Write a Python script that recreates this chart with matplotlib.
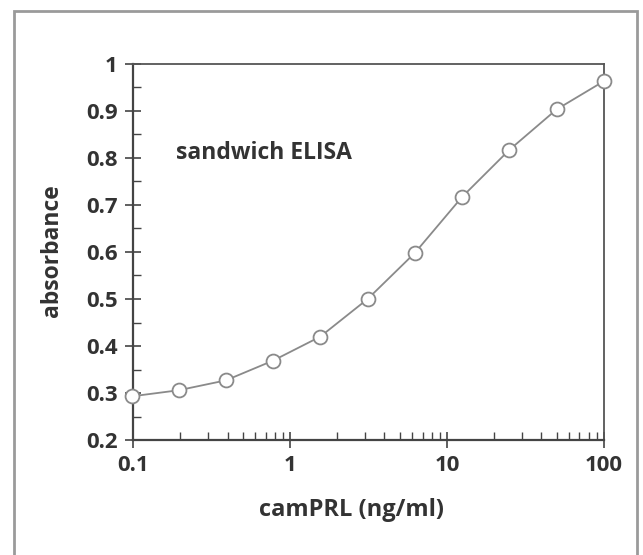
"""
plot.py - sandwich ELISA standard curve for camPRL
"""

import matplotlib
matplotlib.use("Agg")
import matplotlib.pyplot as plt
import matplotlib.patches as mpatches
from matplotlib.ticker import FixedLocator, LogLocator, NullFormatter

# ── data ──────────────────────────────────────────────────────────────────────
conc = [0.0977, 0.195, 0.39, 0.78, 1.56, 3.125, 6.25, 12.5, 25, 50, 100]
absorbance = [0.293, 0.306, 0.327, 0.369, 0.420, 0.500, 0.598, 0.717,
              0.817, 0.903, 0.963]

x_ticks = [0.1, 1, 10, 100]
x_tick_labels = ["0.1", "1", "10", "100"]
y_ticks = [0.2, 0.3, 0.4, 0.5, 0.6, 0.7, 0.8, 0.9, 1.0]
y_tick_labels = ["0.2", "0.3", "0.4", "0.5", "0.6", "0.7", "0.8", "0.9", "1"]

# ── style constants ──────────────────────────────────────────────────────────
LINE = "#8a8a8a"
SPINE = "#444444"
TEXT = "#333333"
FONT = "Open Sans"

plt.rcParams.update({"font.family": FONT})

fig = plt.figure(figsize=(6.43, 5.55), dpi=100)
ax = fig.add_axes([0.207, 0.207, 0.732, 0.678])

ax.plot(conc, absorbance, color=LINE, linewidth=1.3, marker="o",
        markersize=10, markerfacecolor="white", markeredgecolor=LINE,
        markeredgewidth=1.3, clip_on=False, zorder=3)

ax.set_xscale("log")
ax.set_xlim(0.1, 100)
ax.set_ylim(0.2, 1.0)

ax.set_xticks(x_ticks)
ax.set_xticklabels(x_tick_labels)
ax.xaxis.set_minor_locator(LogLocator(base=10, subs=range(2, 10)))
ax.xaxis.set_minor_formatter(NullFormatter())
ax.set_yticks(y_ticks)
ax.set_yticklabels(y_tick_labels)
ax.yaxis.set_minor_locator(FixedLocator([0.25, 0.35, 0.45, 0.55, 0.65,
                                         0.75, 0.85, 0.95]))

ax.tick_params(which="major", direction="inout", length=12, width=1.2,
               color=SPINE, labelsize=16, labelcolor=TEXT, pad=5)
ax.tick_params(which="minor", direction="in", length=6, width=1.0,
               color=SPINE)
ax.tick_params(axis="x", which="both", top=False)
ax.tick_params(axis="y", which="both", right=False)
for lab in ax.get_xticklabels() + ax.get_yticklabels():
    lab.set_fontweight("bold")

for side in ["left", "bottom"]:
    ax.spines[side].set_color(SPINE)
    ax.spines[side].set_linewidth(1.6)
for side in ["top", "right"]:
    ax.spines[side].set_color("#555555")
    ax.spines[side].set_linewidth(1.3)

ax.set_xlabel("camPRL (ng/ml)", fontsize=17, fontweight="bold", color=TEXT)
ax.set_ylabel("absorbance", fontsize=16.5, fontweight="bold", color=TEXT)
ax.xaxis.set_label_coords(0.465, -0.186)
ax.xaxis.label.set_va("center")
ax.yaxis.set_label_coords(-0.172, 0.503)
ax.yaxis.label.set_va("center")

ax.text(0.091, 0.763, "sandwich ELISA", transform=ax.transAxes,
        fontsize=16.5, fontweight="bold", color=TEXT, va="center", ha="left")

# outer frame of the panel
frame = mpatches.Rectangle((14 / 643, -0.05), (637 - 14) / 643, 1.05 - 11 / 555,
                           transform=fig.transFigure, fill=False,
                           edgecolor="#9a9a9a", linewidth=2.0)
fig.patches.append(frame)

fig.savefig("out.png", dpi=100)
plt.close(fig)
